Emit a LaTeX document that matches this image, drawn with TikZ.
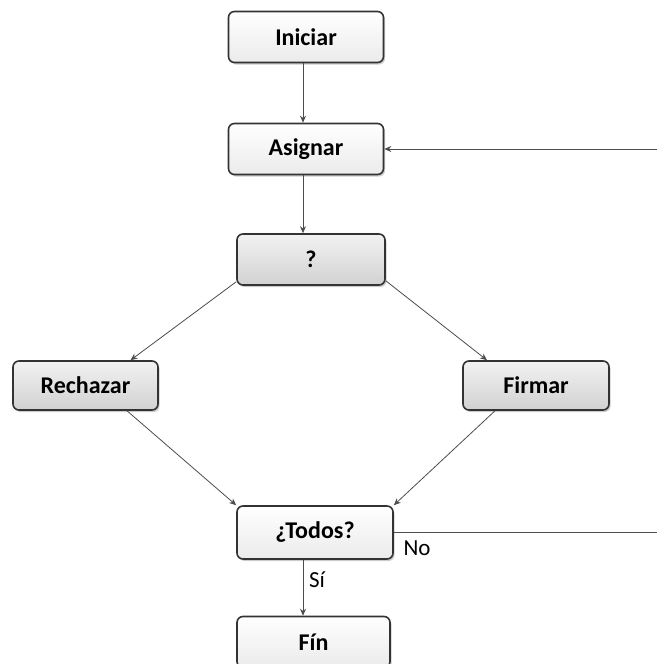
\documentclass[tikz,border=0pt]{standalone}
\usepackage{fontspec}
\setmainfont{Carlito}
\usetikzlibrary{positioning,arrows.meta,shadows}

\begin{document}
\begin{tikzpicture}[x=1pt, y=-1pt,
    box/.style = {draw=black!80, line width=1.6pt, rounded corners=6pt,
                  minimum height=51pt, inner sep=0pt,
                  font=\bfseries\fontsize{24}{27}\selectfont,
                  drop shadow={opacity=0.4, shadow xshift=1.5pt, shadow yshift=-2pt}},
    lightbox/.style = {box, top color=white, bottom color=black!8},
    darkbox/.style = {box, top color=black!5, bottom color=black!18},
    link/.style = {draw=black!70, line width=0.8pt, -{Stealth[length=7pt,width=6pt]}},
    lab/.style = {font=\fontsize{23}{26}\selectfont, inner sep=0pt}]
    \useasboundingbox (0,0) rectangle (657,664);
    \node (ini) [lightbox, minimum width=155pt] at (306,37) {Iniciar};
    \node (asig) [lightbox, minimum width=155pt] at (306,149) {Asignar};
    \node (q) [darkbox, minimum width=148pt] at (311,259.5) {?};
    \node (rech) [darkbox, minimum width=145pt, minimum height=49pt] at (85.5,385.5) {Rechazar};
    \node (firm) [darkbox, minimum width=146pt, minimum height=49pt] at (536,385.5) {Firmar};
    \node (todos) [lightbox, minimum width=156pt, minimum height=53pt] at (315,532.5) {¿Todos?};
    \node (fin) [lightbox, minimum width=153pt] at (313.5,642) {Fín};
    \coordinate (back) at (657,149);
    \coordinate (noend) at (657,532.5);
    \draw[link] ([xshift=-3pt]ini.south) -- ([xshift=-3pt]asig.north);
    \draw[link] ([xshift=-3pt]asig.south) -- ([xshift=-8pt]q.north);
    \draw[link] ([yshift=4pt]q.south west) -- ([xshift=45pt]rech.north);
    \draw[link] ([yshift=5pt]q.south east) -- ([xshift=-49pt]firm.north);
    \draw[link] ([xshift=41.5pt]rech.south) -- (todos.north west);
    \draw[link] ([xshift=-41pt]firm.south) -- (todos.north east);
    \draw[link] ([xshift=-12pt]todos.south) -- ([xshift=-10.5pt]fin.north);
    \draw[link] (back) -- (asig.east);
    \draw[draw=black!70, line width=0.8pt] (todos.east) -- (noend);
    \node (no) [lab] at (417,548) {No};
    \node (si) [lab] at (317,580) {Sí};
\end{tikzpicture}
\end{document}
